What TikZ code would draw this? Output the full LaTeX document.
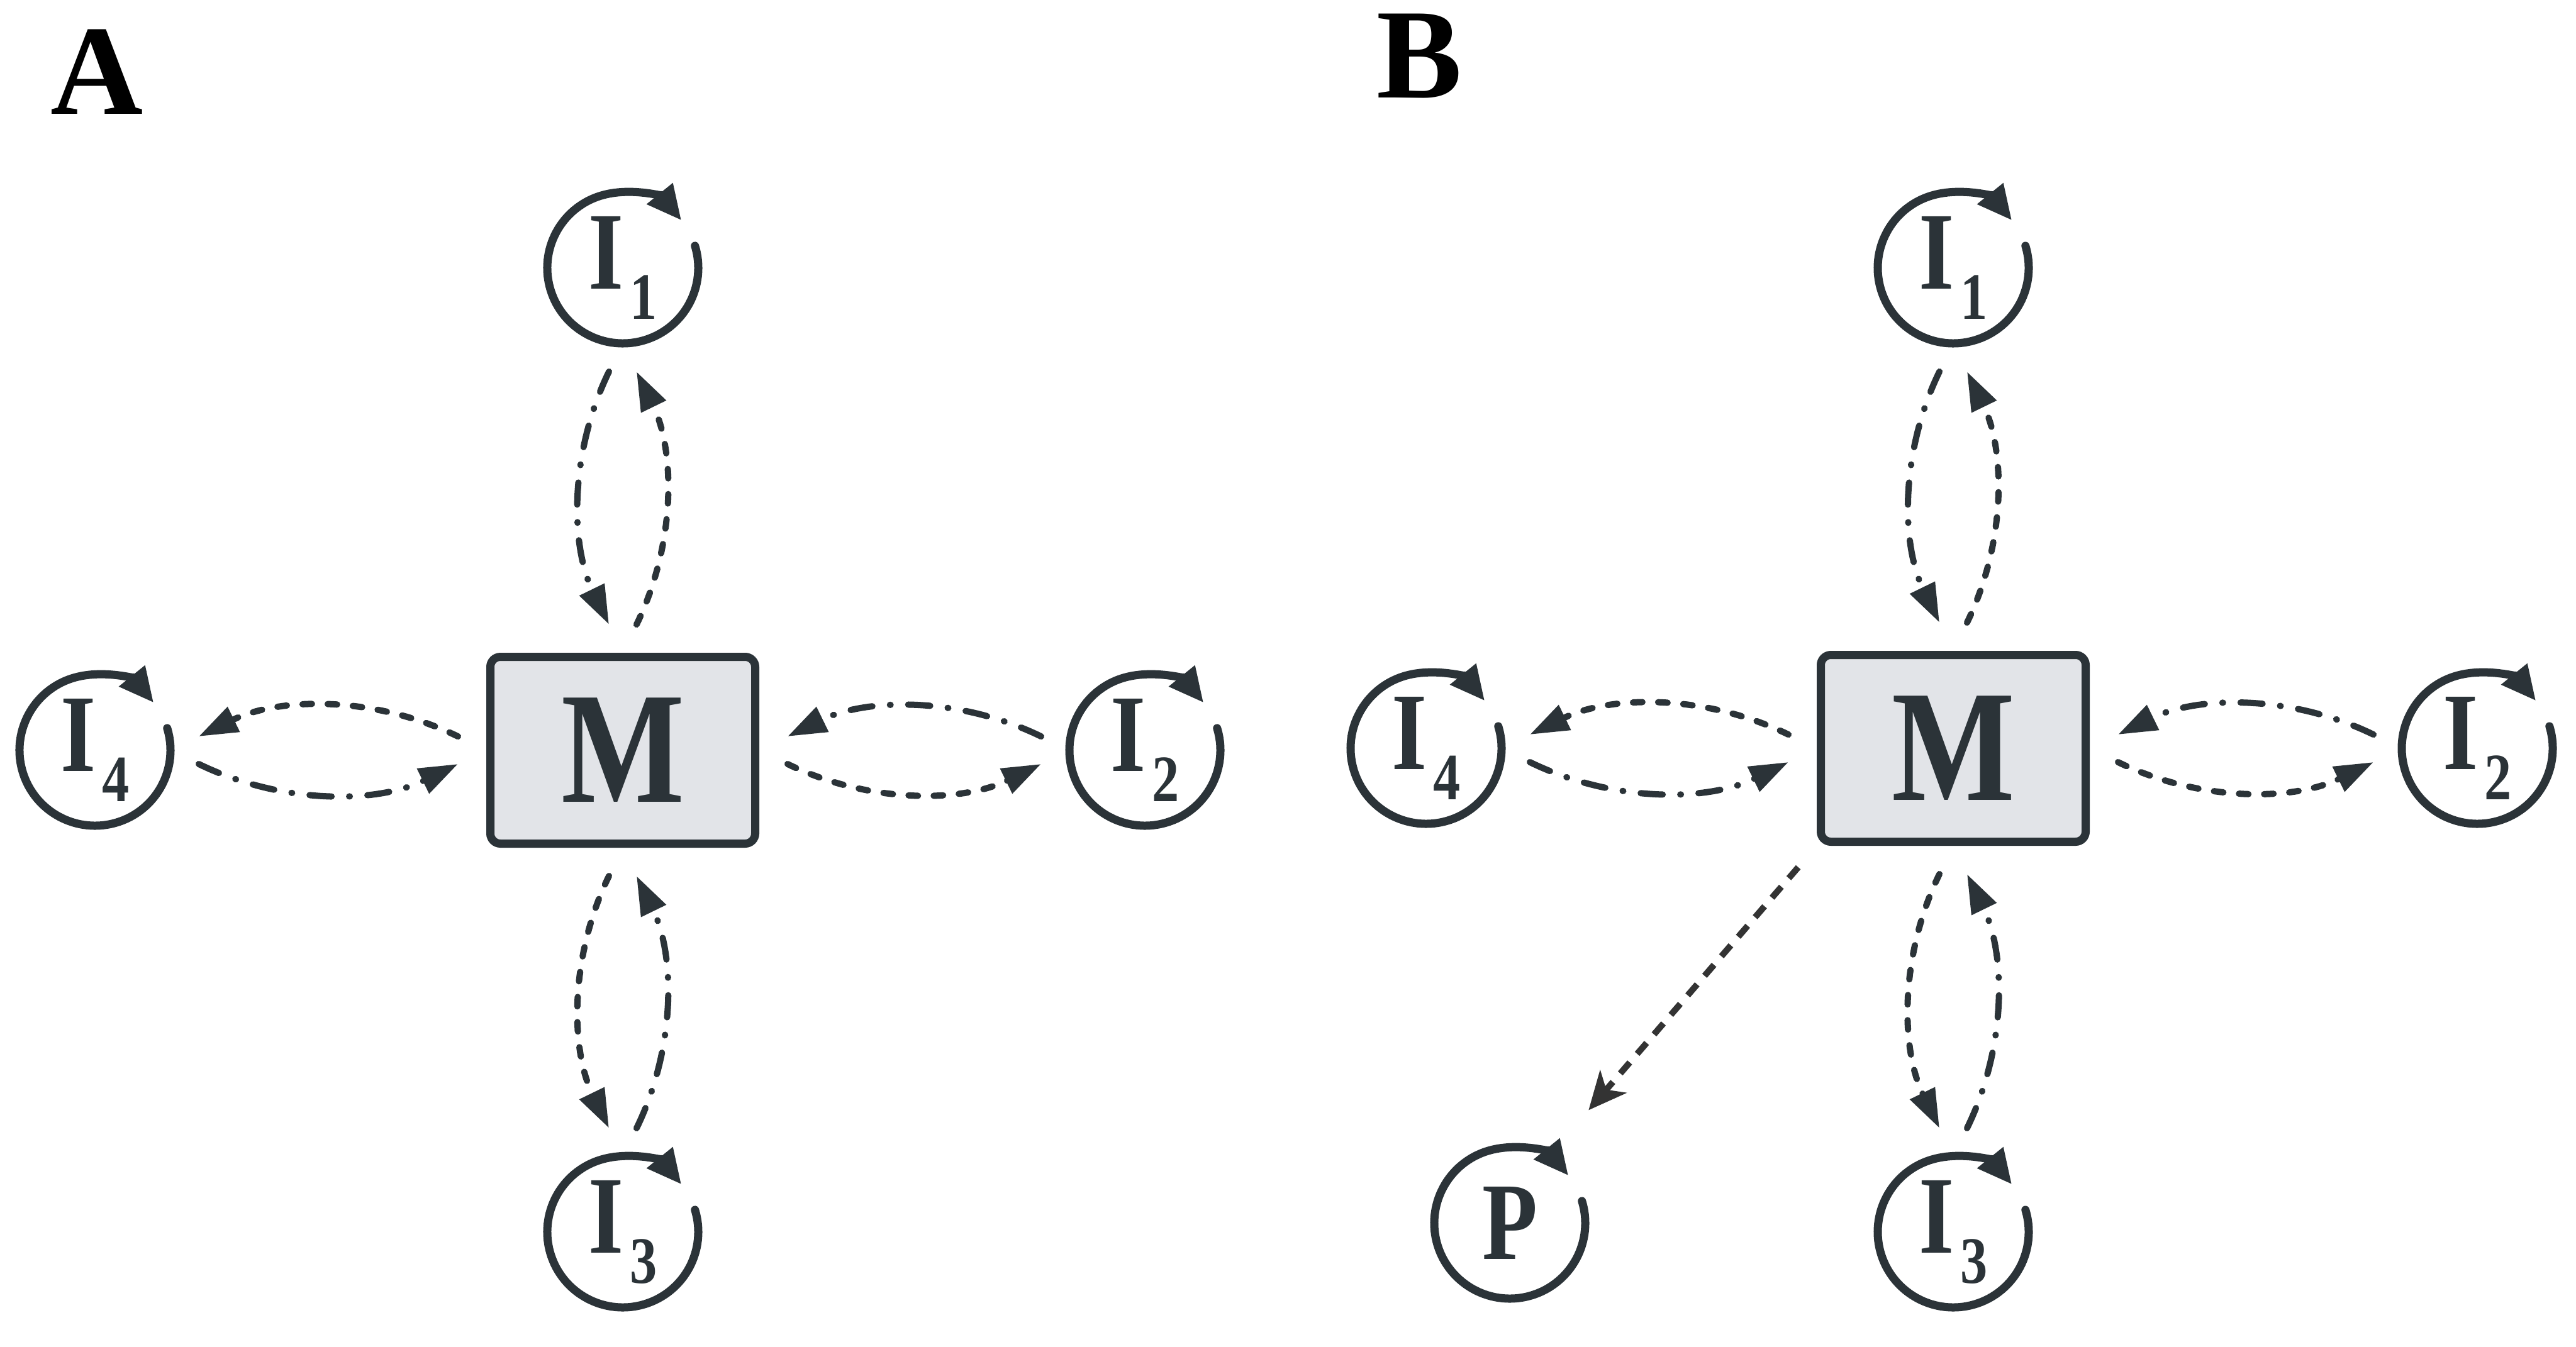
\documentclass[tikz,border=0pt]{standalone}
\usepackage{fontspec}
\setmainfont{Liberation Serif}
\newfontfamily\nodefont[FakeStretch=0.82]{Liberation Serif}
\usepackage{tikz}
\usetikzlibrary{arrows.meta, positioning}
\usepackage{xcolor}
\definecolor{ink}{HTML}{2B3338}
\definecolor{boxgray}{HTML}{E2E4E8}
\definecolor{dashgray}{HTML}{333333}
\newcommand{\isub}[1]{\kern0.1cm\raisebox{-0.48cm}{\fontsize{30}{30}\selectfont #1}}
\tikzstyle{hub} = [rectangle, draw=ink, fill=boxgray, line width=0.13cm, rounded corners=0.16cm, minimum width=4.21cm, minimum height=2.97cm, text=ink, font=\nodefont\fontsize{72}{76}\selectfont\bfseries]
\tikzstyle{pool} = [circle, minimum size=2.4cm, inner sep=0pt, outer sep=0pt, text=ink, font=\nodefont\fontsize{50}{54}\selectfont\bfseries]
\tikzstyle{selfloop} = [draw=ink, line width=0.13cm, line cap=round, -{Triangle[length=0.55cm, width=0.5cm]}]
\tikzstyle{outflow} = [draw=ink, line width=0.1cm, line cap=round, dash pattern=on 0.15cm off 0.25cm, -{Triangle[length=0.62cm, width=0.42cm]}, shorten <=0.5cm, shorten >=0.5cm, bend right=26]
\tikzstyle{inflow} = [outflow, dash pattern=on 0.35cm off 0.28cm on 0.01cm off 0.28cm]
\tikzstyle{product} = [draw=dashgray, line width=0.1cm, dash pattern=on 0.23cm off 0.18cm, -{Stealth[length=0.6cm, width=0.55cm, inset=0.17cm]}, shorten <=0.45cm, shorten >=1.0cm]
\tikzstyle{panel} = [font=\fontsize{58}{60}\selectfont\bfseries, anchor=base west, inner sep=0pt]

\begin{document}
\begin{tikzpicture}[on grid]
  \useasboundingbox (0,0) rectangle (40.95,-21.42);

  % panel A: M exchanges with the four I pools
  \node[panel] (labA) at (0.80,-1.82) {A};
  \node[hub] (mA) at (9.90,-11.93) {M};
  \node[pool, above=7.67cm of mA] (iA1) {I\isub{1}};
  \node[pool, right=8.30cm of mA] (iA2) {I\isub{2}};
  \node[pool, below=7.66cm of mA] (iA3) {I\isub{3}};
  \node[pool, left=8.39cm of mA] (iA4) {I\isub{4}};

  \draw[selfloop] (iA1.17) arc[start angle=17, end angle=-321, radius=1.2cm];
  \draw[selfloop] (iA2.17) arc[start angle=17, end angle=-321, radius=1.2cm];
  \draw[selfloop] (iA3.17) arc[start angle=17, end angle=-321, radius=1.2cm];
  \draw[selfloop] (iA4.17) arc[start angle=17, end angle=-321, radius=1.2cm];

  \draw[inflow] (iA1.south) to (mA.north);
  \draw[outflow] (mA.north) to (iA1.south);
  \draw[inflow] (iA2.west) to (mA.east);
  \draw[outflow] (mA.east) to (iA2.west);
  \draw[inflow] (iA3.north) to (mA.south);
  \draw[outflow] (mA.south) to (iA3.north);
  \draw[inflow] (iA4.east) to (mA.west);
  \draw[outflow] (mA.west) to (iA4.east);

  % panel B: same exchange plus output to P
  \node[panel] (labB) at (21.88,-1.56) {B};
  \node[hub] (mB) at (31.05,-11.90) {M};
  \node[pool, above=7.64cm of mB] (iB1) {I\isub{1}};
  \node[pool, right=8.33cm of mB] (iB2) {I\isub{2}};
  \node[pool, below=7.69cm of mB] (iB3) {I\isub{3}};
  \node[pool, left=8.38cm of mB] (iB4) {I\isub{4}};
  \node[pool, below left=7.55cm and 7.05cm of mB] (pB) {P};

  \draw[selfloop] (iB1.17) arc[start angle=17, end angle=-321, radius=1.2cm];
  \draw[selfloop] (iB2.17) arc[start angle=17, end angle=-321, radius=1.2cm];
  \draw[selfloop] (iB3.17) arc[start angle=17, end angle=-321, radius=1.2cm];
  \draw[selfloop] (iB4.17) arc[start angle=17, end angle=-321, radius=1.2cm];
  \draw[selfloop] (pB.17) arc[start angle=17, end angle=-321, radius=1.2cm];

  \draw[inflow] (iB1.south) to (mB.north);
  \draw[outflow] (mB.north) to (iB1.south);
  \draw[inflow] (iB2.west) to (mB.east);
  \draw[outflow] (mB.east) to (iB2.west);
  \draw[inflow] (iB3.north) to (mB.south);
  \draw[outflow] (mB.south) to (iB3.north);
  \draw[inflow] (iB4.east) to (mB.west);
  \draw[outflow] (mB.west) to (iB4.east);
  \draw[product] (mB.south west) -- (pB.60);
\end{tikzpicture}
\end{document}
